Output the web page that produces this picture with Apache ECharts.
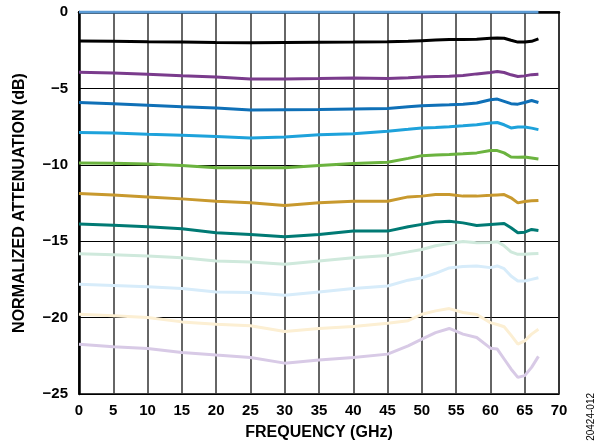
<!DOCTYPE html>
<html><head><meta charset="utf-8">
<script src="https://cdn.jsdelivr.net/npm/echarts@6/dist/echarts.min.js"></script>
<style>html,body{margin:0;padding:0;background:#fff}#c{width:607px;height:446px}</style>
</head><body><div id="c"></div>
<script>
const freq = [0,5,10,15,20,25,30,35,40,45,48,50,52,54,56,58,60,61,62,63,64,65,66,67];
const s0dB  = [0,0,0,0,0,0,0,0,0,0,0,0,0,0,0,0,0,0,0,0,0,0,0,0];
const s2dB  = [-1.9,-1.92,-1.95,-1.97,-2.0,-2.02,-2.0,-1.98,-1.97,-1.95,-1.92,-1.88,-1.84,-1.8,-1.8,-1.78,-1.72,-1.7,-1.72,-1.85,-1.97,-1.97,-1.92,-1.76];
const s4dB  = [-3.94,-4.0,-4.08,-4.18,-4.26,-4.38,-4.38,-4.36,-4.32,-4.35,-4.3,-4.26,-4.22,-4.2,-4.15,-4.05,-3.96,-3.9,-3.96,-4.11,-4.22,-4.18,-4.1,-4.07];
const s6dB  = [-5.92,-6.0,-6.1,-6.2,-6.29,-6.42,-6.4,-6.38,-6.35,-6.32,-6.2,-6.14,-6.1,-6.07,-6.03,-5.96,-5.74,-5.7,-5.85,-6.0,-6.03,-5.92,-5.79,-5.92];
const s8dB  = [-7.88,-7.92,-8.0,-8.07,-8.14,-8.25,-8.18,-8.03,-7.96,-7.8,-7.68,-7.59,-7.56,-7.51,-7.45,-7.38,-7.27,-7.23,-7.38,-7.59,-7.53,-7.53,-7.6,-7.7];
const s10dB = [-9.88,-9.9,-9.95,-10.05,-10.2,-10.2,-10.2,-10.05,-9.92,-9.83,-9.58,-9.4,-9.36,-9.33,-9.28,-9.22,-9.07,-9.07,-9.22,-9.49,-9.5,-9.49,-9.55,-9.62];
const s12dB = [-11.88,-11.98,-12.1,-12.23,-12.38,-12.49,-12.66,-12.49,-12.38,-12.38,-12.1,-12.05,-11.95,-11.95,-12.05,-12.05,-12.0,-11.97,-11.95,-12.16,-12.49,-12.4,-12.36,-12.33];
const s14dB = [-13.88,-13.95,-14.05,-14.19,-14.45,-14.56,-14.71,-14.56,-14.34,-14.34,-14.05,-13.9,-13.75,-13.69,-13.8,-13.97,-13.9,-13.87,-13.84,-14.12,-14.45,-14.41,-14.23,-14.3];
const s16dB = [-15.82,-15.88,-15.97,-16.08,-16.3,-16.36,-16.51,-16.3,-16.08,-15.93,-15.7,-15.54,-15.3,-15.15,-15.02,-15.1,-15.08,-15.03,-15.3,-15.7,-15.86,-15.86,-15.82,-15.8];
const s18dB = [-17.82,-17.9,-17.98,-18.1,-18.32,-18.36,-18.54,-18.32,-18.1,-17.93,-17.55,-17.39,-17.1,-16.75,-16.65,-16.62,-16.73,-16.62,-16.8,-17.28,-17.6,-17.6,-17.5,-17.39];
const s20dB = [-19.78,-19.88,-20.0,-20.28,-20.43,-20.54,-20.91,-20.71,-20.58,-20.37,-20.2,-19.78,-19.56,-19.41,-19.67,-19.8,-20.33,-20.45,-20.6,-21.15,-21.74,-21.52,-21.08,-20.76];
const s22dB = [-21.74,-21.91,-22.02,-22.28,-22.45,-22.61,-22.98,-22.78,-22.61,-22.39,-21.85,-21.41,-20.98,-20.71,-21.08,-21.3,-22.0,-22.06,-22.71,-23.36,-23.91,-23.8,-23.26,-22.54];
const seriesValues = [s0dB,s2dB,s4dB,s6dB,s8dB,s10dB,s12dB,s14dB,s16dB,s18dB,s20dB,s22dB];
const seriesNames = ['0 dB','2 dB','4 dB','6 dB','8 dB','10 dB','12 dB','14 dB','16 dB','18 dB','20 dB','22 dB'];
const seriesColors = ['#5b9bd5','#000000','#7a3b8c','#0f70b7','#1ea2db','#6bb33f','#c8992e','#007a74','#cfe9dc','#d7ecfa','#fcefd3','#d8cae6'];
const xTicks = [0,5,10,15,20,25,30,35,40,45,50,55,60,65,70];
const yTicks = [0,-5,-10,-15,-20,-25];

const FONT = '"Liberation Sans", Arial, sans-serif';
const chart = echarts.init(document.getElementById('c'), null, {renderer:'canvas'});
const series = seriesValues.map((vals, i) => ({
  name: seriesNames[i], type: 'line', showSymbol: false, symbol: 'none',
  data: freq.map((f, k) => [f, vals[k]]),
  lineStyle: {color: seriesColors[i], width: 3}, z: 20 - i, silent: true
}));
chart.setOption({
  animation: false,
  backgroundColor: '#fff',
  grid: {left: 79, right: 48, top: 12, bottom: 51, show: true, borderColor: '#000', borderWidth: 1.5},
  xAxis: {
    type: 'value', min: 0, max: 70, interval: 5,
    name: 'FREQUENCY (GHz)', nameLocation: 'middle', nameGap: 31,
    nameTextStyle: {fontFamily: FONT, fontWeight: 'bold', fontSize: 16, color: '#000'},
    axisLine: {show: true, lineStyle: {color: '#000', width: 2.5}},
    axisTick: {show: false},
    axisLabel: {fontFamily: FONT, fontWeight: 'bold', fontSize: 15, color: '#000', margin: 9,
      formatter: v => xTicks.includes(v) ? String(v) : ''},
    splitLine: {show: true, lineStyle: {color: '#333', width: 1.5}}
  },
  yAxis: {
    type: 'value', min: -25, max: 0, interval: 5,
    name: 'NORMALIZED ATTENUATION (dB)', nameLocation: 'middle', nameGap: 51, nameRotate: 90,
    nameTextStyle: {fontFamily: FONT, fontWeight: 'bold', fontSize: 16, color: '#000'},
    axisLine: {show: true, lineStyle: {color: '#000', width: 2.5}},
    axisTick: {show: false},
    axisLabel: {fontFamily: FONT, fontWeight: 'bold', fontSize: 15, color: '#000', margin: 11,
      formatter: v => yTicks.includes(v) ? (v < 0 ? '\u2212' + Math.abs(v) : String(v)) : ''},
    splitLine: {show: true, lineStyle: {color: '#000', width: 1}}
  },
  graphic: [{
    type: 'text', left: 586, top: 393, rotation: Math.PI / 2, origin: [0, 0],
    style: {text: '20424-012', font: '10px ' + FONT, fill: '#000'}
  }],
  series: series
});
</script></body></html>
